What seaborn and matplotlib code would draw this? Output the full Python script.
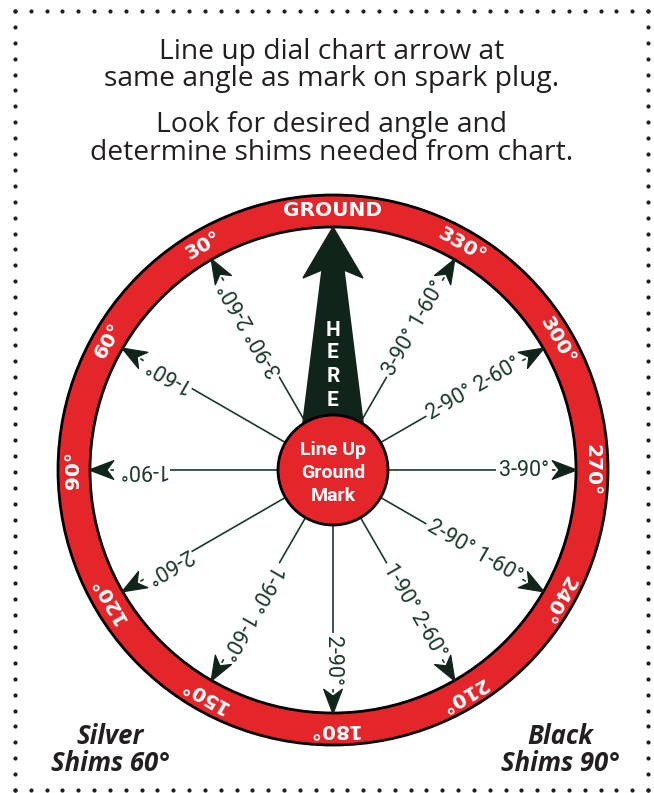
import numpy as np
import matplotlib
matplotlib.use('Agg')
import matplotlib.pyplot as plt
import seaborn as sns
from matplotlib.patches import Circle, Polygon

sns.set_theme(style='white')
plt.rcParams['font.family'] = ['DejaVu Sans']

# ---- chart content ----
spoke_angles = [30, 60, 90, 120, 150, 180, 210, 240, 270, 300, 330]
spoke_labels = ['3-90° 2-60°', '1-60°', '1-90°', '2-60°', '1-90° 1-60°', '2-90°',
                '1-90° 2-60°', '2-90° 1-60°', '3-90°', '2-90° 2-60°', '3-90° 1-60°']
ring_angles = [0, 30, 60, 90, 120, 150, 180, 210, 240, 270, 300, 330]
ring_labels = ['GROUND', '30°', '60°', '90°', '120°', '150°', '180°',
               '210°', '240°', '270°', '300°', '330°']
here_letters = ['H', 'E', 'R', 'E']
instructions = ['Line up dial chart arrow at', 'same angle as mark on spark plug.',
                'Look for desired angle and', 'determine shims needed from chart.']
corner_notes = ['Silver\nShims 60°', 'Black\nShims 90°']

# ---- styling ----
RED = '#e4262b'
INK = '#231f20'
SPOKE = '#1c3a2b'
ARROW = '#10241a'
cx, cy = 333, 470
R_OUT, R_IN, R_HUB = 275, 243, 55


def polar(theta, r):
    """dial angle (deg, ccw from top) -> pixel coords (y down)"""
    t = np.radians(theta)
    return cx - r * np.sin(t), cy - r * np.cos(t)


fig = plt.figure(figsize=(6.54, 7.93), dpi=100)
ax = fig.add_axes([0, 0, 1, 1])
ax.set_xlim(0, 654)
ax.set_ylim(793, 0)
ax.axis('off')

# dotted border
bx = np.linspace(15, 648, 41)
by = np.linspace(11, 790, 50)
ax.scatter(np.r_[bx, bx, np.full(by.size, 15), np.full(by.size, 648)],
           np.r_[np.full(bx.size, 11), np.full(bx.size, 790), by, by],
           s=9, color=INK, linewidths=0)

# instructions
for txt, yb in zip(instructions, [59, 86, 132, 160]):
    ax.text(332, yb, txt, ha='center', va='baseline', fontsize=20.3,
            family='Open Sans', color=INK)

# ring
ax.add_patch(Circle((cx, cy), R_OUT, fc=RED, ec='black', lw=2, zorder=2))
ax.add_patch(Circle((cx, cy), R_IN, fc='white', ec='black', lw=2, zorder=2))
for ang, lab in zip(ring_angles, ring_labels):
    x, y = polar(ang, (R_OUT + R_IN) / 2)
    ax.text(x, y, lab, rotation=ang, rotation_mode='anchor', ha='center',
            va='center', fontsize=14.5, fontweight='bold', color='white', zorder=6)

# spokes with shim combos
for ang, lab in zip(spoke_angles, spoke_labels):
    x0, y0 = polar(ang, R_HUB)
    x1, y1 = polar(ang, 222)
    ax.plot([x0, x1], [y0, y1], color=SPOKE, lw=1.2, zorder=3)
    tx, ty = polar(ang, 216)
    ax.text(tx, ty, lab, rotation=90 + ang, rotation_mode='anchor', ha='right',
            va='center', fontsize=15.5, family='Roboto', color=SPOKE, zorder=4,
            bbox=dict(boxstyle='square,pad=0.12', fc='white', ec='none'))
    t = np.radians(ang)
    u = np.array([-np.sin(t), -np.cos(t)])
    p = np.array([np.cos(t), -np.sin(t)])
    c = np.array([cx, cy])
    head = [c + u * (R_IN + 1), c + u * 219 + p * 9.5, c + u * 226, c + u * 219 - p * 9.5]
    ax.add_patch(Polygon(head, closed=True, fc=ARROW, ec=ARROW, lw=0.8, zorder=5))

# big ground arrow
shape = [(-31, 40), (-11, 200), (-30, 192), (0, R_IN), (30, 192), (11, 200), (31, 40)]
ax.add_patch(Polygon([(cx + dx, cy - up) for dx, up in shape], closed=True,
                     fc=ARROW, ec=ARROW, zorder=4))
for letter, up in zip(here_letters, [140, 117, 93, 70]):
    ax.text(cx, cy - up, letter, ha='center', va='center', fontsize=15,
            family='Roboto', fontweight='bold', color='white', zorder=6)

# hub
ax.add_patch(Circle((cx, cy), R_HUB, fc=RED, ec='black', lw=2, zorder=5))
ax.text(cx, cy + 3, 'Line Up\nGround\nMark', ha='center', va='center',
        fontsize=14, family='Roboto', fontweight='bold', color='white',
        linespacing=1.35, zorder=6)

# corner notes
for note, xc in zip(corner_notes, [110, 560]):
    ax.text(xc, 771, note, ha='center', va='baseline', fontsize=18.5,
            family='Open Sans', fontweight='bold', style='italic', color=INK,
            linespacing=1.0, multialignment='center')

fig.savefig('out.png', dpi=100)
